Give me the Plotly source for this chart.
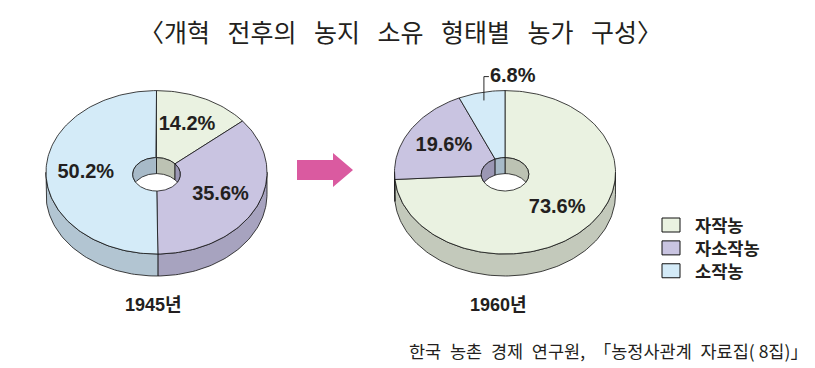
import numpy as np
import plotly.graph_objects as go

# ---------------- data ----------------
SP = "\u2002\u2009"
title_words = ["〈개혁", "전후의", "농지", "소유", "형태별", "농가", "구성〉"]
source_text = "한국\u2002농촌\u2002경제\u2002연구원,\u2002「농정사관계\u2002자료집( 8집)」"
categories = ["자작농", "자소작농", "소작농"]
years = ["1945년", "1960년"]
values_1945 = [14.2, 35.6, 50.2]
values_1960 = [73.6, 19.6, 6.8]

# ---------------- styles ----------------
top_colors = ["#EAF2E1", "#C9C4E1", "#D4EBF8"]
side_colors = ["#C3C9BB", "#A7A3BF", "#B2C5D2"]
wall_colors = ["#BCC2B3", "#9B97B4", "#A7BAC8"]
edge = "#111111"
txt = "#231F20"

W, H = 815, 368
pies = [dict(cx=156.5, values=values_1945, year=years[0], ylab_dx=-3),
        dict(cx=505.0, values=values_1960, year=years[1], ylab_dx=-7)]
CY, RX, RY, DEPTH = 172.3, 110.5, 81.7, 22.0
HRX, HRY, HCY_OFF, HDEPTH = 23.8, 16.7, 2.0, 16.0
LAB_R = 0.64
LAB_FONT = dict(family="Liberation Sans", size=20, color=txt, weight="bold")

fig = go.Figure()


def arc(cx, cy, rx, ry, a, b, n=None):
    if n is None:
        n = max(4, int(abs(b - a) / (2 * np.pi) * 240))
    t = np.linspace(a, b, n)
    return cx + rx * np.sin(t), cy - ry * np.cos(t), t


def poly(x, y, color, lw=0.8):
    fig.add_trace(go.Scatter(x=np.append(x, x[0]), y=np.append(y, y[0]), mode="lines",
                             fill="toself", fillcolor=color,
                             line=dict(color=edge, width=lw),
                             hoverinfo="skip", showlegend=False))


def intersect(a1, a2, lo, hi):
    s, e = max(a1, lo), min(a2, hi)
    return (s, e) if s < e else None


for p in pies:
    cx = p["cx"]
    vals = np.array(p["values"], dtype=float)
    bounds = np.concatenate([[0], np.cumsum(vals)]) / vals.sum() * 2 * np.pi
    # side (near half)
    for i in range(len(vals)):
        seg = intersect(bounds[i], bounds[i + 1], np.pi / 2, 3 * np.pi / 2)
        if seg:
            x, y, _ = arc(cx, CY, RX, RY, *seg)
            poly(np.concatenate([x, x[::-1]]), np.concatenate([y, (y + DEPTH)[::-1]]), side_colors[i])
    # top faces
    hcy = CY + HCY_OFF
    for i in range(len(vals)):
        xo, yo, _ = arc(cx, CY, RX, RY, bounds[i], bounds[i + 1])
        xi, yi, _ = arc(cx, hcy, HRX, HRY, bounds[i + 1], bounds[i])
        poly(np.concatenate([xo, xi]), np.concatenate([yo, yi]), top_colors[i])
    # inner wall of hole (far half)
    for i in range(len(vals)):
        for lo, hi in [(0, np.pi / 2), (3 * np.pi / 2, 2 * np.pi)]:
            seg = intersect(bounds[i], bounds[i + 1], lo, hi)
            if seg:
                x, yu, t = arc(cx, hcy, HRX, HRY, *seg, n=60)
                yl = np.minimum(hcy + HDEPTH - HRY * np.cos(t), hcy + HRY * np.cos(t))
                poly(np.concatenate([x, x[::-1]]), np.concatenate([yu, yl[::-1]]), wall_colors[i])
    # labels
    for i, v in enumerate(vals):
        mid = (bounds[i] + bounds[i + 1]) / 2
        label = f"{v:.1f}%"
        if v >= 10:
            fig.add_trace(go.Scatter(x=[cx + LAB_R * RX * np.sin(mid)], y=[CY - LAB_R * RY * np.cos(mid)],
                                     mode="text", text=[label], textfont=LAB_FONT,
                                     hoverinfo="skip", showlegend=False))
        else:
            x0 = cx + 0.9 * RX * np.sin(mid)
            y0 = CY - 0.9 * RY * np.cos(mid)
            y1 = CY - RY - 14
            fig.add_trace(go.Scatter(x=[x0, x0, x0 + 5], y=[y0, y1, y1], mode="lines",
                                     line=dict(color=edge, width=0.9),
                                     hoverinfo="skip", showlegend=False))
            fig.add_trace(go.Scatter(x=[x0 + 6], y=[y1], mode="text", text=[label],
                                     textposition="middle right", textfont=LAB_FONT,
                                     hoverinfo="skip", showlegend=False))
    fig.add_annotation(x=cx + p["ylab_dx"], y=305, text=p["year"], showarrow=False,
                       xref="x", yref="y",
                       font=dict(family="Liberation Sans, Noto Sans CJK KR", size=18, color=txt,
                                 weight="bold"))

# legend (manual): one multi-line text block, boxes spaced at the line height
LEG_X, LEG_Y0, LEG_FS = 662, 225, 17.6
LEG_DY = 1.3 * LEG_FS
for i, c in enumerate(categories):
    yc = LEG_Y0 + i * LEG_DY
    fig.add_shape(type="rect", xref="x", yref="y", x0=LEG_X, x1=LEG_X + 18, y0=yc - 7, y1=yc + 7,
                  fillcolor=top_colors[i], line=dict(color=edge, width=1))
fig.add_annotation(x=LEG_X + 31, y=LEG_Y0 + LEG_DY, xref="x", yref="y",
                   text="<br>".join(categories), showarrow=False,
                   xanchor="left", yanchor="middle", align="left",
                   font=dict(family="Noto Sans CJK KR", size=LEG_FS, color=txt, weight="bold"))

# arrow between pies
fig.add_shape(type="path", xref="x", yref="y",
              path="M 297 160 L 333 160 L 333 153 L 353 170 L 333 187 L 333 180 L 297 180 Z",
              fillcolor="#DA5AA0", line=dict(width=0))

fig.add_annotation(x=400.5, y=31, xref="x", yref="y", text=SP.join(title_words), showarrow=False,
                   font=dict(family="Noto Sans CJK KR", size=25, color=txt))
fig.add_annotation(x=810, y=350, xref="x", yref="y", text=source_text, showarrow=False,
                   xanchor="right",
                   font=dict(family="Noto Sans CJK KR", size=17.5, color=txt))

fig.update_layout(
    width=W, height=H, margin=dict(l=0, r=0, t=0, b=0),
    paper_bgcolor="white", plot_bgcolor="white",
    xaxis=dict(range=[0, W], visible=False, fixedrange=True),
    yaxis=dict(range=[H, 0], visible=False, fixedrange=True),
    showlegend=False,
)

fig.write_html("out.html", config={"displayModeBar": False},
               post_script="document.body.style.margin='0';document.body.style.overflow='hidden';")
